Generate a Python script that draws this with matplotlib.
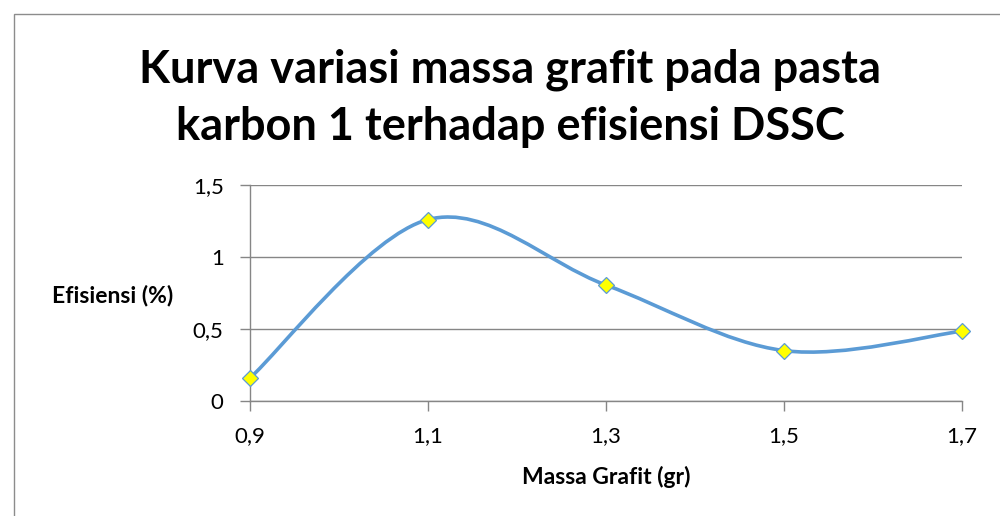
"""Kurva variasi massa grafit - smoothed Excel-style line chart."""

import matplotlib
matplotlib.use("Agg")
import matplotlib.pyplot as plt
from matplotlib.path import Path
from matplotlib.patches import PathPatch, Rectangle

# data
massa = [0.9, 1.1, 1.3, 1.5, 1.7]
efisiensi = [0.16, 1.26, 0.805, 0.35, 0.485]
x_ticks = [0.9, 1.1, 1.3, 1.5, 1.7]
x_labels = ["0,9", "1,1", "1,3", "1,5", "1,7"]
y_ticks = [0, 0.5, 1, 1.5]
y_labels = ["0", "0,5", "1", "1,5"]

line_color = "#5B9BD5"
grid_color = "#868686"
plt.rcParams["font.family"] = ["Lato", "DejaVu Sans"]


def smooth_path(xs, ys, tension=1 / 6):
    """Catmull-Rom style cubic bezier through the points (like Excel smoothing)."""
    pts = list(zip(xs, ys))
    verts = [pts[0]]
    codes = [Path.MOVETO]
    n = len(pts)
    for i in range(n - 1):
        p0 = pts[i - 1] if i > 0 else pts[i]
        p1 = pts[i]
        p2 = pts[i + 1]
        p3 = pts[i + 2] if i + 2 < n else pts[i + 1]
        c1 = (p1[0] + (p2[0] - p0[0]) * tension, p1[1] + (p2[1] - p0[1]) * tension)
        c2 = (p2[0] - (p3[0] - p1[0]) * tension, p2[1] - (p3[1] - p1[1]) * tension)
        verts += [c1, c2, p2]
        codes += [Path.CURVE4] * 3
    return Path(verts, codes)


fig = plt.figure(figsize=(10, 5.16), dpi=100)
fig.patch.set_facecolor("white")
# chart area border (only top and left visible in the crop)
fig.patches.append(Rectangle((0.014, -0.1), 1.2, 1.073, transform=fig.transFigure,
                             fill=False, edgecolor="#8c8c8c", linewidth=1.0))

ax = fig.add_axes([0.25, 1 - 401 / 516, 0.712, 216 / 516])
ax.set_xlim(0.9, 1.7)
ax.set_ylim(0, 1.5)

ax.add_patch(PathPatch(smooth_path(massa, efisiensi), facecolor="none",
                       edgecolor=line_color, linewidth=2.6, capstyle="round",
                       zorder=3, clip_on=False))
ax.plot(massa, efisiensi, linestyle="none", marker="D", markersize=8.5,
        markerfacecolor="#FFFF00", markeredgecolor=line_color,
        markeredgewidth=0.9, zorder=4, clip_on=False)

ax.set_xticks(x_ticks)
ax.set_xticklabels(x_labels, fontsize=16)
ax.set_yticks(y_ticks)
ax.set_yticklabels(y_labels, fontsize=16)
ax.tick_params(axis="both", direction="out", length=7, width=1, color=grid_color)
ax.tick_params(axis="x", pad=11)
ax.tick_params(axis="y", pad=12)
ax.grid(axis="y", color=grid_color, linewidth=1)
ax.set_axisbelow(True)
for side in ["top", "right"]:
    ax.spines[side].set_visible(False)
for side in ["left", "bottom"]:
    ax.spines[side].set_color(grid_color)
    ax.spines[side].set_linewidth(1)

fig.text(0.51, 1 - 70 / 516, "Kurva variasi massa grafit pada pasta",
         ha="center", va="center", fontsize=32.5, fontweight="bold")
fig.text(0.51, 1 - 127 / 516, "karbon 1 terhadap efisiensi DSSC",
         ha="center", va="center", fontsize=32.5, fontweight="bold")
fig.text(0.1125, 1 - 296 / 516, "Efisiensi (%)", ha="center", va="center",
         fontsize=16.5, fontweight="bold")
fig.text(0.606, 1 - 477 / 516, "Massa Grafit (gr)", ha="center", va="center",
         fontsize=16.5, fontweight="bold")

plt.savefig("out.png", dpi=100, facecolor=fig.get_facecolor())
plt.close()
